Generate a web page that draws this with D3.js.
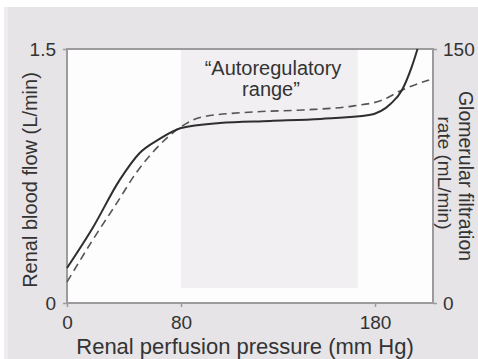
<!DOCTYPE html>
<html>
<head>
<meta charset="utf-8">
<script src="https://cdn.jsdelivr.net/npm/d3@7"></script>
<style>
  html, body { margin: 0; padding: 0; background: #ffffff; }
  svg { display: block; font-family: "Liberation Sans", Arial, sans-serif; }
</style>
</head>
<body>
<svg id="chart" width="478" height="359"></svg>
<script>
// Renal autoregulation: blood flow (solid, left axis) and GFR (dashed, right axis)
const pressure = [0, 18, 37, 51, 65, 80, 100, 126, 152, 177, 188, 194, 199, 202];
const bloodFlow = [0.207, 0.443, 0.727, 0.886, 0.969, 1.034, 1.063, 1.075, 1.087, 1.110, 1.175, 1.258, 1.394, 1.5];

const gfrPressure = [0, 18, 35, 49, 63, 80, 91, 117, 143, 169, 184, 194, 208];
const gfr = [12.4, 37.2, 59.1, 77.4, 91.6, 104, 109.9, 112.8, 114.0, 116.4, 119.9, 125.8, 131.7];

const xTicks = [0, 80, 180];
const leftTicks = [0, 1.5];
const rightTicks = [0, 150];
const rangeBand = [80, 171];

const svg = d3.select("#chart");
const plot = { left: 67, right: 433, top: 49, bottom: 303 };

// pressure axis is drawn with a compressed low segment
const x = d3.scaleLinear().domain([0, 80, 180, 210]).range([plot.left, 181, 375, plot.right]);
const yL = d3.scaleLinear().domain([0, 1.5]).range([plot.bottom, plot.top]);
const yR = d3.scaleLinear().domain([0, 150]).range([plot.bottom, plot.top]);

// panel background
svg.append("rect").attr("x", 4).attr("y", 7).attr("width", 474).attr("height", 352)
  .attr("fill", "#e6e4e6");
svg.append("rect").attr("x", 4).attr("y", 7).attr("width", 4).attr("height", 352)
  .attr("fill", "#eeedee");

// plot area
svg.append("rect").attr("x", plot.left).attr("y", plot.top)
  .attr("width", plot.right - plot.left).attr("height", plot.bottom - plot.top)
  .attr("fill", "#fdfdfd");

// autoregulatory range band
svg.append("rect")
  .attr("x", x(rangeBand[0])).attr("y", plot.top)
  .attr("width", x(rangeBand[1]) - x(rangeBand[0]))
  .attr("height", plot.bottom - 15 - plot.top)
  .attr("fill", "#f1eff1");

// frame
svg.append("rect").attr("x", plot.left).attr("y", plot.top)
  .attr("width", plot.right - plot.left).attr("height", plot.bottom - plot.top)
  .attr("fill", "none").attr("stroke", "#9c9a9c").attr("stroke-width", 2);

const textColor = "#333333";

function styleAxis(g) {
  g.select(".domain").remove();
  g.selectAll(".tick line").attr("stroke", "#9c9a9c").attr("stroke-width", 1.5);
  g.selectAll(".tick text").attr("fill", textColor).style("font-size", "19px")
    .style("font-family", "'Liberation Sans', Arial, sans-serif");
}

const fmt = d => d === 0 ? "0" : String(d);

svg.append("g").attr("transform", `translate(0,${plot.bottom})`)
  .call(d3.axisBottom(x).tickValues(xTicks).tickFormat(fmt).tickSize(4).tickPadding(9))
  .call(styleAxis);

svg.append("g").attr("transform", `translate(${plot.left},0)`)
  .call(d3.axisLeft(yL).tickValues(leftTicks).tickFormat(fmt).tickSize(4).tickPadding(7))
  .call(styleAxis);

svg.append("g").attr("transform", `translate(${plot.right},0)`)
  .call(d3.axisRight(yR).tickValues(rightTicks).tickFormat(fmt).tickSize(4).tickPadding(6))
  .call(styleAxis);

// curves
const flowLine = d3.line().x((d, i) => x(pressure[i])).y(d => yL(d)).curve(d3.curveMonotoneX);
const gfrLine = d3.line().x((d, i) => x(gfrPressure[i])).y(d => yR(d)).curve(d3.curveMonotoneX);

svg.append("path").datum(gfr).attr("d", gfrLine)
  .attr("fill", "none").attr("stroke", "#555555").attr("stroke-width", 1.6)
  .attr("stroke-dasharray", "8,5");

svg.append("path").datum(bloodFlow).attr("d", flowLine)
  .attr("fill", "none").attr("stroke", "#2e2e2e").attr("stroke-width", 2);

// labels
const label = (txt, px, py, rot, size) => svg.append("text")
  .attr("transform", `translate(${px},${py}) rotate(${rot || 0})`)
  .attr("text-anchor", "middle").attr("fill", textColor)
  .style("font-size", (size || 20) + "px").text(txt);

label("\u201CAutoregulatory", 273, 75);
label("range\u201D", 271, 96);
label("Renal perfusion pressure (mm Hg)", 245, 354, 0, 22);
label("Renal blood flow (L/min)", 37, 180, -90);
label("Glomerular filtration", 459, 176, 90, 19.5);
label("rate (mL/min)", 438, 173, 90, 19);
</script>
</body>
</html>
